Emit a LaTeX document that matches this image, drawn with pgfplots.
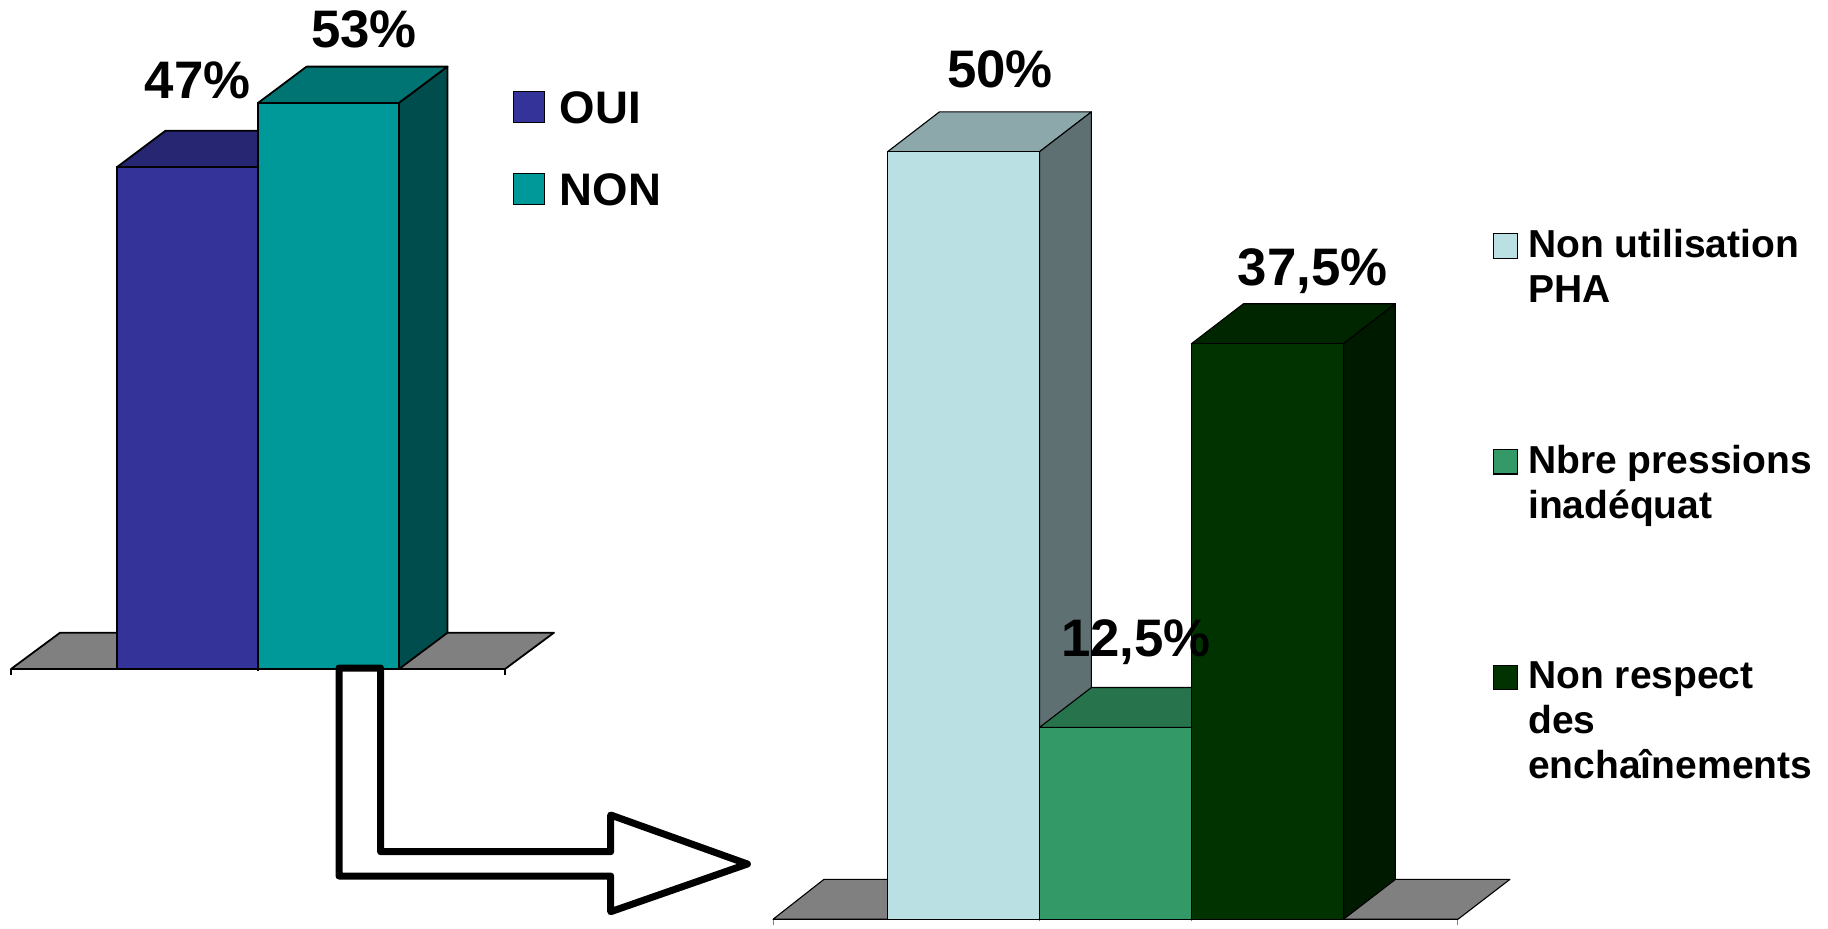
\documentclass[border=0pt]{standalone}
\usepackage{fontspec}
\setmainfont{Liberation Sans}
\usepackage{pgfplots}
\pgfplotsset{compat=1.18}

\definecolor{cblue}{HTML}{333399}
\definecolor{cblueT}{HTML}{262673}
\definecolor{cblueS}{HTML}{1A1A4D}
\definecolor{cteal}{HTML}{009999}
\definecolor{ctealT}{HTML}{007373}
\definecolor{ctealS}{HTML}{004D4D}
\definecolor{clight}{HTML}{BBE0E3}
\definecolor{clightT}{HTML}{8CA8AA}
\definecolor{clightS}{HTML}{5E7072}
\definecolor{cgreen}{HTML}{339966}
\definecolor{cgreenT}{HTML}{26734C}
\definecolor{cgreenS}{HTML}{1A4D33}
\definecolor{cdark}{HTML}{003300}
\definecolor{cdarkT}{HTML}{002600}
\definecolor{cdarkS}{HTML}{001A00}
\definecolor{cfloor}{HTML}{808080}

\pgfplotsset{
  face/.style={forget plot, fill=#1, draw=black, line join=round},
  front/.style n args={3}{ybar, bar width=1, bar shift=0pt, fill=#1, draw=black,
    legend image code/.code={\draw[fill=#1,draw=black,line width=0.6pt,yshift=#3] (0pt,0pt) rectangle (#2,#2);}},
  bars3d/.style={
    clip=false, ymin=0,
    axis y line=none, axis x line*=bottom,
    ytick=\empty, xticklabels={},
    tick align=outside, major tick length=3pt,
    legend cell align=left,
  },
}
\tikzset{pct/.style={anchor=base, inner sep=0pt, font=\bfseries\fontsize{26.4}{30}\selectfont}}

\begin{document}
\begin{tikzpicture}
\useasboundingbox (0,0) rectangle (914pt,464pt);

% OUI / NON
\begin{axis}[bars3d, anchor=south west, at={(5.5pt,129.5pt)},
    x=70.5pt, y=5.34pt, xmin=-0.252, xmax=3.252, ymax=60,
    xtick={-0.252,3.252},
    extra x ticks={1.5}, extra x tick labels={}, extra x tick style={major tick length=1pt},
    axis line style={black, line width=1.1pt}, x tick style={black, line width=0.7pt},
    every axis plot/.append style={line width=0.9pt},
    legend style={at={(axis cs:3.304,54.68)}, anchor=north west, draw=none, fill=none,
      inner sep=0pt, row sep=20.6pt, nodes={inner sep=0pt},
      font=\bfseries\fontsize{22.8}{27}\selectfont,
      /tikz/column 1/.style={column sep=7.25pt}},
  ]
  \addplot[face=cfloor] coordinates {(-0.252,0) (0.096,3.4) (3.599,3.4) (3.252,0)} --cycle;
  \addplot[face=cblueT] coordinates {(0.5,47) (1.5,47) (1.844,50.4) (0.844,50.4)} --cycle;
  \addplot[face=cblueS] coordinates {(1.5,0) (1.844,3.4) (1.844,50.4) (1.5,47)} --cycle;
  \addplot[front={cblue}{15.75pt}{-8.5pt}] coordinates {(1,47)};
  \addlegendentry{\begin{tabular}[t]{@{}l@{}}OUI\end{tabular}}
  \addplot[face=ctealT] coordinates {(1.5,53) (2.5,53) (2.844,56.4) (1.844,56.4)} --cycle;
  \addplot[face=ctealS] coordinates {(2.5,0) (2.844,3.4) (2.844,56.4) (2.5,53)} --cycle;
  \addplot[front={cteal}{15.75pt}{-8.5pt}] coordinates {(2,53)};
  \addlegendentry{\begin{tabular}[t]{@{}l@{}}NON\end{tabular}}
  \node[pct] at (axis cs:1.071,53.4) {47\%};
  \node[pct] at (axis cs:2.252,58.2) {53\%};
\end{axis}

% causes
\begin{axis}[bars3d, anchor=south west, at={(386.5pt,4.35pt)},
    x=76pt, y=7.675pt, xmin=-0.253, xmax=4.253, ymax=55,
    xtick={-0.253,4.253},
    extra x ticks={1.5,2.5}, extra x tick labels={}, extra x tick style={major tick length=1pt},
    axis line style={black, line width=0.7pt}, x tick style={gray, line width=0.5pt},
    every axis plot/.append style={line width=0.55pt},
    legend style={at={(axis cs:4.479,45.19)}, anchor=north west, draw=none, fill=none,
      inner sep=0pt, row sep=90.6pt, nodes={inner sep=0pt},
      font=\bfseries\fontsize{19.5}{22.5}\selectfont,
      /tikz/column 1/.style={column sep=5pt}},
  ]
  \addplot[face=cfloor] coordinates {(-0.253,0) (0.082,2.6) (4.595,2.6) (4.253,0)} --cycle;
  \addplot[face=clightT] coordinates {(0.5,50) (1.5,50) (1.842,52.6) (0.842,52.6)} --cycle;
  \addplot[face=clightS] coordinates {(1.5,0) (1.842,2.6) (1.842,52.6) (1.5,50)} --cycle;
  \addplot[front={clight}{12.2pt}{-7.5pt}] coordinates {(1,50)};
  \addlegendentry{\begin{tabular}[t]{@{}l@{}}Non utilisation\\PHA\end{tabular}}
  \addplot[face=cgreenT] coordinates {(1.5,12.5) (2.5,12.5) (2.842,15.1) (1.842,15.1)} --cycle;
  \addplot[face=cgreenS] coordinates {(2.5,0) (2.842,2.6) (2.842,15.1) (2.5,12.5)} --cycle;
  \addplot[front={cgreen}{12.2pt}{-7.5pt}] coordinates {(2,12.5)};
  \addlegendentry{\begin{tabular}[t]{@{}l@{}}Nbre pressions\\inadéquat\end{tabular}}
  \addplot[face=cdarkT] coordinates {(2.5,37.5) (3.5,37.5) (3.842,40.1) (2.842,40.1)} --cycle;
  \addplot[face=cdarkS] coordinates {(3.5,0) (3.842,2.6) (3.842,40.1) (3.5,37.5)} --cycle;
  \addplot[front={cdark}{12.2pt}{-7.5pt}] coordinates {(3,37.5)};
  \addlegendentry{\begin{tabular}[t]{@{}l@{}}Non respect\\des\\enchaînements\end{tabular}}
  \node[pct] at (axis cs:1.24,54.2) {50\%};
  \node[pct] at (axis cs:3.297,41.26) {37,5\%};
  \node[pct] at (axis cs:2.135,17.09) {12,5\%};
\end{axis}

% the arrow between the two charts, in pixels of the picture
\begin{axis}[hide axis, anchor=south west, at={(0pt,0pt)}, clip=false, y dir=reverse,
    x=0.5pt, y=0.5pt, xmin=0, xmax=1828, ymin=0, ymax=928]
  \addplot[fill=white, draw=black, line width=3.5pt, line join=round]
    coordinates {(339,668) (380.6,668) (380.6,851.7) (610.7,851.7) (610.7,815)
      (747.4,864) (610.7,911.7) (610.7,876) (339,876)} --cycle;
\end{axis}
\end{tikzpicture}
\end{document}
